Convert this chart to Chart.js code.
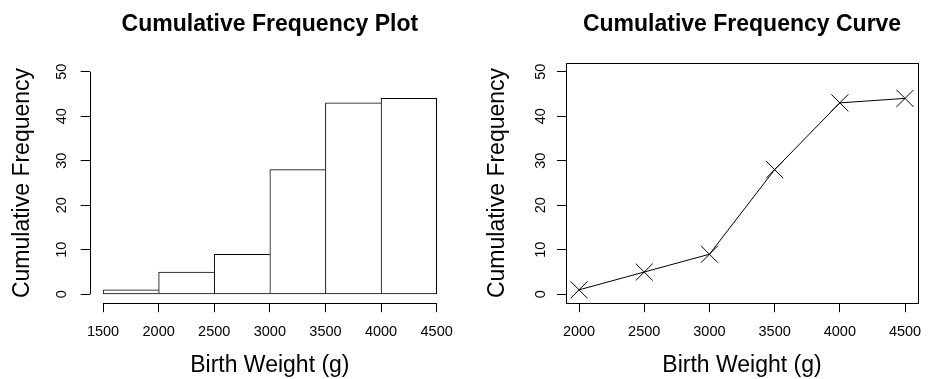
<!DOCTYPE html>
<html>
<head>
<meta charset="utf-8">
<script src="https://cdn.jsdelivr.net/npm/chart.js@4"></script>
<style>
  html, body { margin: 0; padding: 0; background: #fff; }
  #wrap { position: relative; width: 933px; height: 379px; }
  .panel { position: absolute; top: 0; height: 379px; }
  #left { left: 0; width: 466px; }
  #right { left: 466px; width: 467px; }
</style>
</head>
<body>
<div id="wrap">
  <div class="panel" id="left"><canvas id="plot"></canvas></div>
  <div class="panel" id="right"><canvas id="curve"></canvas></div>
</div>
<script>
// cumulative frequency of birth weights, bins of 500 g
const binStart = [1500, 2000, 2500, 3000, 3500, 4000];
const binEnd = [2000, 2500, 3000, 3500, 4000, 4500];
const cumFreq = [1, 5, 9, 28, 43, 44];

// tick labels
const plotTicksX = [1500, 2000, 2500, 3000, 3500, 4000, 4500];
const curveTicksX = [2000, 2500, 3000, 3500, 4000, 4500];
const ticksY = [0, 10, 20, 30, 40, 50];

Chart.defaults.font.family = '"Liberation Sans", Arial, Helvetica, sans-serif';
Chart.defaults.color = "#000";

const tickFont = { size: 14.5, lineHeight: 1.2 };
const labelFont = { size: 23, lineHeight: 1.2 };

function titleOpts(text) {
  return {
    display: true,
    text: text,
    fullSize: false,
    color: "#000",
    font: { size: 23, weight: "bold", lineHeight: 1.2 },
    padding: { top: 0, bottom: 24 },
  };
}

function xScale(min, max, ticks) {
  return {
    type: "linear",
    min: min,
    max: max,
    offset: false,
    afterBuildTicks: (s) => { s.ticks = ticks.map((v) => ({ value: v })); },
    afterFit: (s) => { s.height = 75.8; },
    border: { display: false },
    grid: { drawOnChartArea: false, offset: false, tickLength: 9, color: "#000", lineWidth: 1 },
    ticks: { font: tickFont, padding: 11.3, maxRotation: 0, autoSkip: false, callback: (v) => String(v) },
    title: { display: true, text: "Birth Weight (g)", font: labelFont, padding: { top: 0, bottom: 0 } },
  };
}

function yScale(width, labelPad, titlePad) {
  return {
    type: "linear",
    min: -2,
    max: 52,
    afterBuildTicks: (s) => { s.ticks = ticksY.map((v) => ({ value: v })); },
    afterFit: (s) => { s.width = width; },
    border: { display: false },
    grid: { drawOnChartArea: false, tickLength: 9, color: "#000", lineWidth: 1 },
    ticks: { font: tickFont, padding: labelPad, minRotation: 90, maxRotation: 90, crossAlign: "center", callback: (v) => String(v) },
    title: { display: true, text: "Cumulative Frequency", font: labelFont, padding: { top: titlePad, bottom: 0 } },
  };
}

// R style axes: lines only between first and last tick
const rAxes = {
  id: "rAxes",
  afterDraw(chart) {
    const { ctx, chartArea, scales } = chart;
    const x0 = Math.round(chartArea.left) + 0.5;
    const y0 = Math.round(chartArea.bottom) + 0.5;
    ctx.save();
    ctx.strokeStyle = "#000";
    ctx.lineWidth = 1;
    ctx.beginPath();
    ctx.moveTo(x0, scales.y.getPixelForValue(ticksY[0]));
    ctx.lineTo(x0, scales.y.getPixelForValue(ticksY[ticksY.length - 1]));
    ctx.moveTo(scales.x.getPixelForValue(plotTicksX[0]), y0);
    ctx.lineTo(scales.x.getPixelForValue(plotTicksX[plotTicksX.length - 1]), y0);
    ctx.stroke();
    ctx.restore();
  },
};

const boxAxes = {
  id: "boxAxes",
  afterDraw(chart) {
    const { ctx, chartArea } = chart;
    const l = Math.round(chartArea.left) + 0.5;
    const t = Math.round(chartArea.top) + 0.5;
    const r = Math.round(chartArea.right) + 0.5;
    const b = Math.round(chartArea.bottom) + 0.5;
    ctx.save();
    ctx.strokeStyle = "#000";
    ctx.lineWidth = 1;
    ctx.strokeRect(l, t, r - l, b - t);
    ctx.restore();
  },
};

new Chart(document.getElementById("plot"), {
  type: "bar",
  data: {
    datasets: [{
      data: cumFreq.map((v, i) => ({ x: (binStart[i] + binEnd[i]) / 2, y: v })),
      backgroundColor: "#fff",
      borderColor: "#000",
      borderWidth: (c) => ({ top: 1, left: 1, bottom: 1, right: c.dataIndex === cumFreq.length - 1 ? 1 : 0 }),
      borderSkipped: false,
      barPercentage: 1,
      categoryPercentage: 1,
    }],
  },
  options: {
    responsive: true,
    maintainAspectRatio: false,
    animation: false,
    events: [],
    layout: { padding: { top: 11.2, left: 0, right: 16, bottom: 0 } },
    plugins: { legend: { display: false }, tooltip: { enabled: false }, title: titleOpts("Cumulative Frequency Plot") },
    scales: {
      x: xScale(1380, 4620, plotTicksX),
      y: yScale(89.7, 10.6, 8.7),
    },
  },
  plugins: [rAxes],
});

new Chart(document.getElementById("curve"), {
  type: "line",
  data: {
    datasets: [{
      data: cumFreq.map((v, i) => ({ x: binEnd[i], y: v })),
      borderColor: "#000",
      borderWidth: 1,
      tension: 0,
      pointStyle: "crossRot",
      pointRadius: 12,
      pointBorderColor: "#000",
      pointBorderWidth: 1,
      pointBackgroundColor: "#000",
      clip: false,
    }],
  },
  options: {
    responsive: true,
    maintainAspectRatio: false,
    animation: false,
    events: [],
    layout: { padding: { top: 11.2, left: 0, right: 6.3, bottom: 0 } },
    plugins: { legend: { display: false }, tooltip: { enabled: false }, title: titleOpts("Cumulative Frequency Curve") },
    scales: {
      x: xScale(1900, 4600, curveTicksX),
      y: yScale(100, 8.2, 17.7),
    },
  },
  plugins: [boxAxes],
});
</script>
</body>
</html>
